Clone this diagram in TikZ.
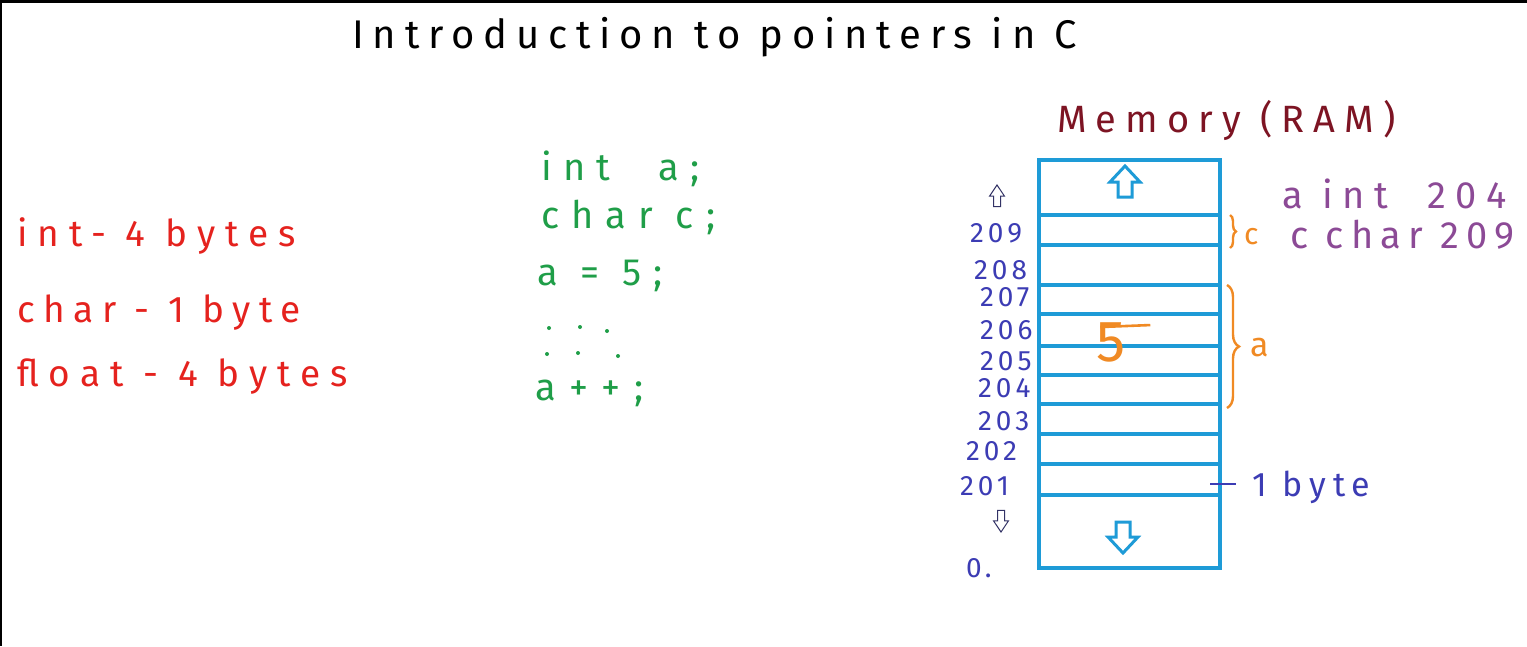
\documentclass[tikz,border=0pt]{standalone}
\usepackage{fontspec}
\setmainfont{Fira Sans}
\newfontfamily\hand{Fira Sans}
\newcommand{\lsp}[1]{\addfontfeature{LetterSpace=#1}}
\usetikzlibrary{decorations.pathreplacing}
\definecolor{tred}{HTML}{E5221E}
\definecolor{tgreen}{HTML}{1F9E48}
\definecolor{tblue}{HTML}{3C3CB4}
\definecolor{tbox}{HTML}{1E9BD7}
\definecolor{torange}{HTML}{F08A24}
\definecolor{tpurple}{HTML}{8C4A96}
\definecolor{tdred}{HTML}{7D1423}
\definecolor{tnavy}{HTML}{333366}
\tikzset{
  txt/.style={inner sep=0pt, anchor=base west},
  boxline/.style={draw=tbox, line width=3.2pt},
  upa/.pic={\draw[pic actions] (0,0) -- (15,16) -- (7,16) -- (7,31) -- (-7,31) -- (-7,16) -- (-15,16) -- cycle;},
  downa/.pic={\draw[pic actions] (0,0) -- (15,-16) -- (7,-16) -- (7,-31) -- (-7,-31) -- (-7,-16) -- (-15,-16) -- cycle;},
  bracestyle/.style={draw=torange, line width=2.4pt, decorate},
  gdot/.style={fill=tgreen, circle, inner sep=0pt, minimum size=4pt},
}
\begin{document}
\begin{tikzpicture}[x=1pt,y=-1pt]
\useasboundingbox (0,0) rectangle (1527,646);
\fill[white] (0,0) rectangle (1527,646);
\fill[black] (0,0) rectangle (1527,3);
\fill[black] (0,0) rectangle (2,646);

% title
\node[txt, font=\hand\fontsize{40}{46}\selectfont\lsp{22}] (title) at (352,48) {Introduction to pointers in C};

% red sizes
\node[txt, text=tred, font=\hand\fontsize{37}{42}\selectfont\lsp{27}] (r1) at (17,246) {int- 4 bytes};
\node[txt, text=tred, font=\hand\fontsize{37}{42}\selectfont\lsp{23}] (r2) at (17,322) {char - 1 byte};
\node[txt, text=tred, font=\hand\fontsize{37}{42}\selectfont\lsp{27}] (r3) at (17,386) {float - 4 bytes};

% green code
\node[txt, text=tgreen, font=\hand\fontsize{38}{44}\selectfont\lsp{30}] (g1) at (541,180) {int\hspace{48pt}a;};
\node[txt, text=tgreen, font=\hand\fontsize{38}{44}\selectfont\lsp{32}] (g2) at (541,228) {char c;};
\node[txt, text=tgreen, font=\hand\fontsize{38}{44}\selectfont\lsp{33}] (g3) at (537,285) {a = 5;};
\foreach \i/\dx/\dy in {1/549/328,2/580/327,3/607/331,4/547/354,5/578/353,6/618/356}
  \node[gdot] (dot\i) at (\dx,\dy) {};
\node[txt, text=tgreen, font=\hand\fontsize{38}{44}\selectfont\lsp{36}] (g6) at (535,400) {a++;};

% memory title
\node[txt, text=tdred, font=\hand\fontsize{38}{44}\selectfont\lsp{24}] (mem) at (1057,132) {Memory (RAM)};

% memory box
\draw[boxline] (1039,160) rectangle (1220,568);
\foreach \y in {215,245,285,314,346,375,404,434,464,495}
  \draw[boxline] (1039,\y) -- (1220,\y);
\pic[draw=tbox, line width=3pt] at (1125,166) {upa};
\pic[draw=tbox, line width=3pt] at (1123,553) {downa};

% addresses
\foreach \lab/\xx/\yy in {209/970/242,208/974/279,207/980/306,206/980/339,205/980/370,204/978/397,203/978/430,202/966/460,201/960/495}
  \node[txt, text=tblue, font=\hand\fontsize{28}{32}\selectfont\lsp{14}] (ad\lab) at (\xx,\yy) {\lab};
\node[txt, text=tblue, font=\hand\fontsize{28}{32}\selectfont\lsp{12}] (zero) at (966,577) {0.};
\pic[draw=tnavy, line width=1pt, xscale=0.5, yscale=0.7] at (997,185) {upa};
\pic[draw=tnavy, line width=1pt, xscale=0.5, yscale=0.7] at (1001,532) {downa};

% value 5
\node[inner sep=0pt, text=torange, font=\hand\fontsize{58}{62}\selectfont] (five) at (1111,342) {5};
\draw[torange, line width=2.6pt] (five.north west) ++(4,5) -- ++(50,-2);

% braces
\draw[bracestyle, decoration={brace, amplitude=6pt}] (1230,215) -- (1230,248);
\node[txt, text=torange, font=\hand\fontsize{30}{34}\selectfont] (cl) at (1244,244) {c};
\draw[bracestyle, decoration={brace, amplitude=12pt}] (1227,285) -- (1227,408);
\node[txt, text=torange, font=\hand\fontsize{34}{38}\selectfont] (al) at (1250,356) {a};

% 1 byte
\coordinate (tk) at (1210,484);
\node[txt, text=tblue, font=\hand\fontsize{34}{38}\selectfont\lsp{20}] (byte) at (1252,496) {1 byte};
\draw[tblue, line width=2.4pt] (tk) -- ++(26,0);

% purple table
\node[txt, text=tpurple, font=\hand\fontsize{38}{44}\selectfont\lsp{25}] (p1) at (1282,208) {a int\ \ 204};
\node[txt, text=tpurple, font=\hand\fontsize{38}{44}\selectfont\lsp{19}] (p2) at (1290,248) {c char 209};
\end{tikzpicture}
\end{document}
